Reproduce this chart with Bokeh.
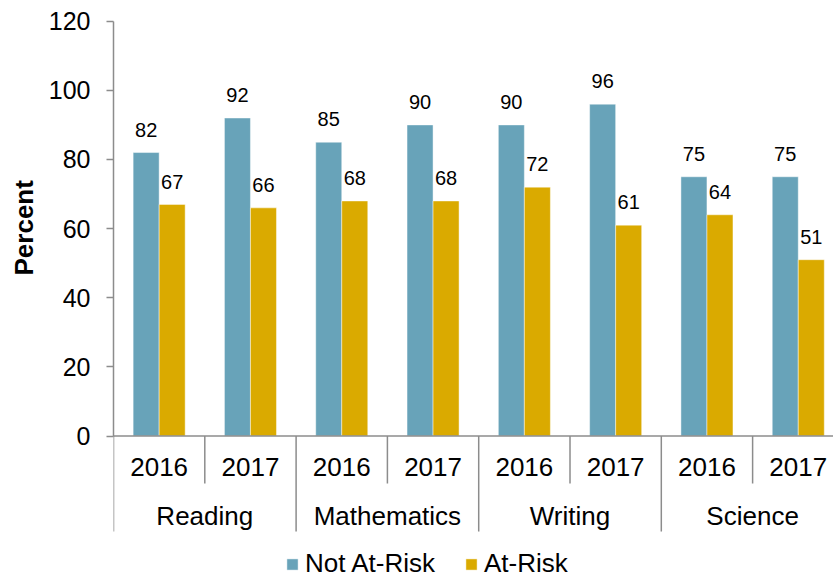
from bokeh.plotting import figure
from bokeh.models import (Range1d, ColumnDataSource, Legend, LegendItem,
                          SingleIntervalTicker, Title)
from bokeh.core.properties import value
from bokeh.embed import file_html
from bokeh.resources import INLINE

# ---- data ----
subjects = ["Reading", "Mathematics", "Writing", "Science"]
years = ["2016", "2017"]
not_at_risk = [82, 92, 85, 90, 90, 96, 75, 75]
at_risk = [67, 66, 68, 68, 72, 61, 64, 51]
series_names = ["Not At-Risk", "At-Risk"]

BLUE = "#68A3B9"
GOLD = "#DAAA00"
GRAY = "#8C8C8C"
FONT = "Liberation Sans"

BAR_W = 0.285

n = len(not_at_risk)
centers = [i + 0.5 for i in range(n)]
year_labels = [years[i % 2] for i in range(n)]

p = figure(width=833, height=580, output_backend="svg", toolbar_location=None,
           x_range=Range1d(0, 7.886), y_range=Range1d(-41.8, 125.99),
           x_axis_location=None, min_border_left=113, min_border_right=0,
           min_border_top=0, min_border_bottom=0)
p.outline_line_color = None
p.xgrid.visible = False
p.ygrid.visible = False
p.background_fill_color = "white"

ax = p.yaxis[0]
ax.bounds = (0, 120)
ax.ticker = SingleIntervalTicker(interval=20, num_minor_ticks=0)
ax.axis_line_color = GRAY
ax.axis_line_width = 1.5
ax.major_tick_line_color = GRAY
ax.major_tick_line_width = 1.5
ax.major_tick_in = 0
ax.major_tick_out = 7
ax.minor_tick_line_color = None
ax.major_label_standoff = 16
ax.major_label_text_font = FONT
ax.major_label_text_font_size = "25px"
ax.major_label_text_color = "black"

p.add_layout(Title(text="Percent", align="left", offset=305,
                   text_font=FONT, text_font_size="26px",
                   text_font_style="bold", text_color="black",
                   standoff=13), "left")

src = ColumnDataSource(dict(
    xb=[c - BAR_W / 2 for c in centers],
    xg=[c + BAR_W / 2 for c in centers],
    nar=not_at_risk, ar=at_risk,
    ynar=[v + 6.6 for v in not_at_risk],
    yar=[v + 6.6 for v in at_risk],
    tnar=[str(v) for v in not_at_risk],
    tar=[str(v) for v in at_risk],
))

r1 = p.vbar(x="xb", top="nar", bottom=0, width=BAR_W, source=src,
            fill_color=BLUE, line_color="white", line_alpha=0.45, line_width=1)
r2 = p.vbar(x="xg", top="ar", bottom=0, width=BAR_W, source=src,
            fill_color=GOLD, line_color="white", line_alpha=0.45, line_width=1)

p.text(x="xb", y="ynar", text="tnar", source=src, text_align="center",
       text_baseline="middle", text_font=value(FONT), text_font_size="20px",
       text_color="black")
p.text(x="xg", y="yar", text="tar", source=src, text_align="center",
       text_baseline="middle", text_font=value(FONT), text_font_size="20px",
       text_color="black")

# category axis (two-level) drawn in data space
y_year_sep = -13.74
y_group_sep = -27.63
p.segment(x0=[0], y0=[0], x1=[8], y1=[0], line_color=GRAY, line_width=1.5)
bounds_x = list(range(n + 1))
p.segment(x0=bounds_x, y0=[0] * len(bounds_x), x1=bounds_x,
          y1=[y_group_sep if b % 2 == 0 else y_year_sep for b in bounds_x],
          line_color=GRAY, line_width=1.5)
p.text(x=centers, y=[-9.1] * n, text=year_labels, text_align="center",
       text_baseline="middle", text_font=value(FONT), text_font_size="26px",
       text_color="black")
p.text(x=[2 * g + 1 for g in range(len(subjects))], y=[-23.0] * len(subjects),
       text=subjects, text_align="center", text_baseline="middle",
       text_font=value(FONT), text_font_size="26px", text_color="black")

legend = Legend(items=[LegendItem(label=series_names[0], renderers=[r1]),
                       LegendItem(label=series_names[1], renderers=[r2])],
                orientation="horizontal", location=(172, 1),
                glyph_width=14, glyph_height=14, label_standoff=6, spacing=29,
                padding=0, margin=0, border_line_color=None,
                background_fill_alpha=0, label_text_font=FONT,
                label_text_font_size="26px", label_text_color="black")
p.add_layout(legend, "center")

open("out.html", "w").write(file_html(p, INLINE))
